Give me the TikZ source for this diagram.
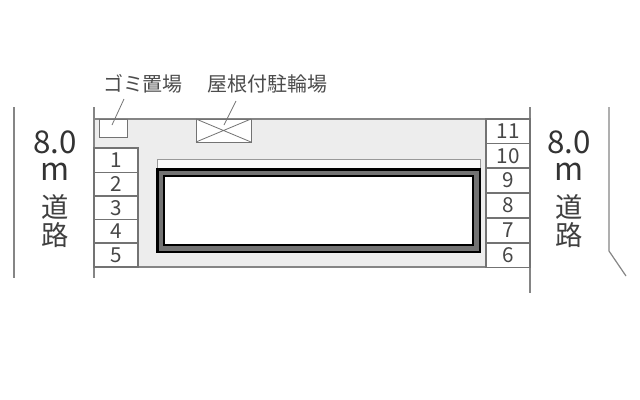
\documentclass[tikz,border=0pt]{standalone}
\usepackage{fontspec}
\setmainfont{Noto Sans CJK JP}
\tikzset{
  px/.style={x=0.75pt,y=-0.75pt},
  wall/.style={draw=black!48,line width=0.9pt},
  thin/.style={draw=black!55,line width=0.6pt},
  lot/.style={draw=black!55,line width=0.8pt,fill=white,minimum width=33pt,inner sep=0pt,outer sep=0pt,anchor=north west},
  big/.style={font=\fontsize{23.5}{24}\selectfont,text=black!80,inner sep=0pt,text depth=0pt},
  cjkbig/.style={font=\fontsize{20.5}{21}\selectfont,text=black!75,inner sep=0pt,text height=18pt,text depth=2pt},
  num/.style={font=\fontsize{15.5}{16}\selectfont,text=black!72},
  lab/.style={font=\fontsize{15}{15}\selectfont,text=black!70,inner sep=0pt}
}
\newcommand{\lotbox}[4]{\node[lot,num,minimum height=#4*0.75pt,text height=11pt,text depth=0pt] (#1) at (#2,#3) {#1};}
\begin{document}
\begin{tikzpicture}[px]
\useasboundingbox (0,0) rectangle (640,400);
\fill[white] (0,0) rectangle (640,400);
% ground
\fill[black!7] (94,119) rectangle (487,267);
% lines
\draw[wall] (14,107) -- (14,278);
\draw[wall] (94,107) -- (94,278);
\draw[wall] (530,107) -- (530,293);
\draw[wall] (94,119) -- (530,119);
\draw[wall] (94,267) -- (530,267);
\draw[wall] (609,107) -- (609,251) -- (626,276);
% left parking
\lotbox{1}{94}{148}{24.5}
\lotbox{2}{94}{172.5}{23.5}
\lotbox{3}{94}{196}{23.5}
\lotbox{4}{94}{219.5}{23.5}
\lotbox{5}{94}{243}{24}
% right parking
\lotbox{11}{486}{119}{24.5}
\lotbox{10}{486}{143.5}{24.5}
\lotbox{9}{486}{168}{25}
\lotbox{8}{486}{193}{25}
\lotbox{7}{486}{218}{25}
\lotbox{6}{486}{243}{24.5}
% building
\fill[black!2] (157,159) rectangle (480,168);
\draw[black!40,line width=0.6pt] (157,168) -- (157,159) -- (480,159) -- (480,168);
\fill[black] (156,168) rectangle (481,253);
\fill[black!55] (158.5,170.5) rectangle (478.5,250.5);
\fill[black] (163,175) rectangle (474,246);
\fill[white] (165,177) rectangle (472,244);
% garbage place
\draw[thin,fill=white] (99.5,119) rectangle (127.5,137);
\node[lab] (gomi) at (143,84) {ゴミ置場};
\coordinate (gomitip) at (112,125);
\coordinate (gomifrom) at (124,99);
\draw[thin] (gomifrom) -- (gomitip);
% bicycle place
\draw[thin,fill=white] (196,119) rectangle (251,142);
\draw[thin] (196,119) -- (251,142) (196,142) -- (251,119);
\node[lab] (bike) at (267.5,84) {屋根付駐輪場};
\coordinate (biketip) at (224,125);
\coordinate (bikefrom) at (236,101);
\draw[thin] (bikefrom) -- (biketip);
% road labels
\node[big,text height=17pt] (la) at (55,142) {8.0};
\node[big,text height=13pt] (lb) at (55,172) {m};
\node[cjkbig] (lc) at (55,207) {道};
\node[cjkbig] (ld) at (55,235) {路};
\node[big,text height=17pt] (ra) at (569,142) {8.0};
\node[big,text height=13pt] (rb) at (569,172) {m};
\node[cjkbig] (rc) at (569,207) {道};
\node[cjkbig] (rd) at (569,235) {路};
\end{tikzpicture}
\end{document}
